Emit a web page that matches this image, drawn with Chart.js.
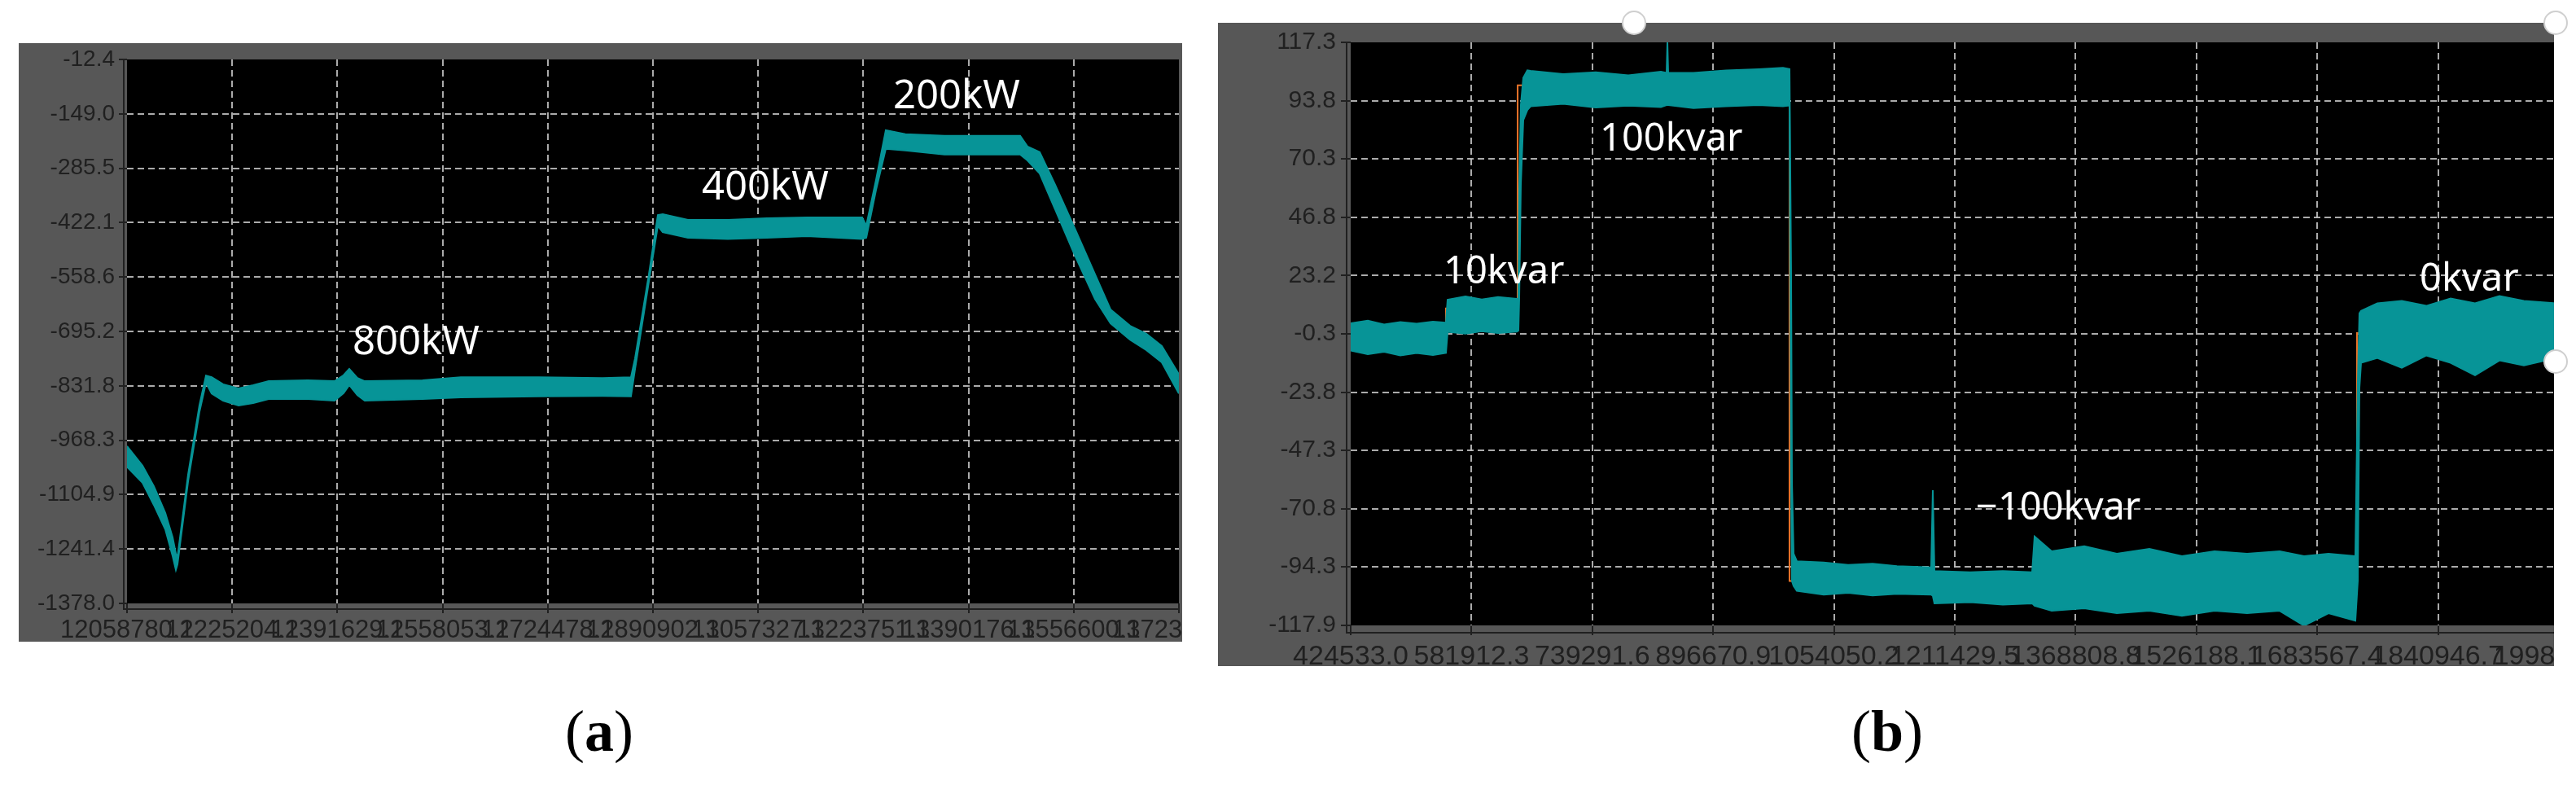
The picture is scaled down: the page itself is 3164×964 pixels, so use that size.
<!DOCTYPE html>
<html>
<head>
<meta charset="utf-8">
<script src="https://cdn.jsdelivr.net/npm/chart.js@4.4.0/dist/chart.umd.min.js"></script>
<style>
  html, body { margin: 0; padding: 0; background: #fff; }
  body { width: 3164px; height: 964px; position: relative; overflow: hidden; }
  canvas { display: block; }
  .frame { position: absolute; background: #575757; overflow: hidden; }
  #frameA { left: 23px; top: 53px; width: 1429px; height: 735px; }
  #frameB { left: 1496px; top: 28px; width: 1641px; height: 790px; }
  .handle { position: absolute; width: 26px; height: 26px; border-radius: 50%; background: #fff; border: 2px solid #cfcfcf; }
  .caption { position: absolute; top: 862px; font: 72px 'Liberation Serif', 'Times New Roman', serif; line-height: 72px; color: #000; transform: translateX(-50%); white-space: nowrap; }
</style>
</head>
<body>
<div class="frame" id="frameA"><canvas id="chartA" width="1429" height="735"></canvas></div>
<div class="frame" id="frameB"><canvas id="chartB" width="1700" height="790"></canvas></div>
<div class="handle" style="left:1992px;top:13px"></div>
<div class="handle" style="left:3124px;top:13px"></div>
<div class="handle" style="left:3124px;top:429px"></div>
<div class="caption" style="left:736px">(<b>a</b>)</div>
<div class="caption" style="left:2318px">(<b>b</b>)</div>

<script>
// (a) active power steps, band = upper / lower edge of the noisy trace
const aTime = [12058780, 12083250, 12101290, 12119320, 12130910, 12136070, 12138640, 12155390,
  12173420, 12183730, 12192740, 12210780, 12235250, 12258440, 12282910, 12344740, 12387250,
  12401420, 12410430, 12423310, 12434910, 12526360, 12586900, 12709270, 12811030, 12856110,
  12862550, 12884450, 12898620, 12906350, 12946280, 13009400, 13071230, 13134340, 13221930,
  13228380, 13243830, 13259290, 13290200, 13352030, 13415150, 13471830, 13483420, 13502740,
  13527210, 13558130, 13590330, 13614810, 13645720, 13671480, 13695960, 13723000];
const aUpper = [-983, -1032, -1084, -1151, -1212, -1253, -1262, -1055,
  -880, -806, -810, -828, -838, -830, -820, -818, -820,
  -805, -789, -812, -820, -818, -810, -810, -812, -810,
  -763, -552, -403, -401, -415, -415, -411, -409, -409,
  -430, -315, -190, -200, -204, -204, -204, -231, -245,
  -327, -436, -552, -640, -681, -701, -732, -803];
const aLower = [-1035, -1075, -1131, -1192, -1259, -1294, -1280, -1072,
  -897, -824, -851, -869, -881, -875, -865, -865, -869,
  -850, -830, -855, -869, -865, -861, -858, -857, -858,
  -790, -570, -430, -446, -460, -463, -460, -456, -463,
  -460, -340, -237, -241, -251, -251, -251, -266, -299,
  -389, -503, -614, -675, -716, -742, -773, -851];
const aXTicks = [12058780.1, 12225204.1, 12391629.1, 12558053.1, 12724478.1, 12890902.1,
  13057327.1, 13223751.1, 13390176.1, 13556600.1, 13723025.1];
const aYTicks = [-12.4, -149.0, -285.5, -422.1, -558.6, -695.2, -831.8, -968.3, -1104.9, -1241.4, -1378.0];
const aNotes = ['800kW', '400kW', '200kW'];
const aNoteX = [12415580, 12968180, 13270880];
const aNoteY = [-752.4, -364.0, -135.1];

// (b) reactive power steps
const bTime = [424533, 446804, 468014, 489224, 510434, 531644, 548612, 550733, 574064, 595274,
  616484, 640875, 642996, 644057, 646178, 649359, 654662, 658904, 701324, 743744, 786164,
  828584, 836008, 837068, 838128, 871004, 913424, 955844, 987659, 996143, 998264, 999324,
  1001445, 1005687, 1040684, 1072499, 1104314, 1136129, 1180670, 1182791, 1184912, 1231574,
  1273994, 1312172, 1315353, 1337624, 1380044, 1422464, 1464884, 1507304, 1549724, 1592144,
  1634564, 1666379, 1698194, 1733190, 1736372, 1738493, 1740614, 1761824, 1793639, 1825454,
  1857269, 1889084, 1920899, 1952714, 1995134];
const bUpper = [4.0, 5.0, 3.5, 4.5, 3.8, 4.6, 4.2, 13.5, 14.8, 13.6,
  14.6, 13.8, 14.0, 58.0, 92.0, 103.0, 106.0, 105.8, 104.5, 105.2, 104.0,
  105.5, 105.0, 117.3, 105.0, 105.0, 106.0, 106.5, 107.0, 106.5, 23.0, -60.0,
  -89.0, -92.0, -92.5, -93.5, -93.0, -94.0, -94.5, -63.4, -96.0, -96.5,
  -96.0, -96.5, -82.0, -88.0, -86.0, -89.0, -87.0, -90.0, -88.0, -89.0,
  -88.0, -90.0, -89.0, -90.0, -20.0, 8.0, 9.0, 12.0, 13.0, 11.0,
  14.0, 12.0, 15.0, 13.0, 12.0];
const bLower = [-7.0, -8.5, -7.5, -9.0, -8.0, -8.8, -8.0, 0.5, -0.2, 0.8,
  0.0, 0.6, 1.0, 14.0, 60.0, 86.0, 90.0, 91.5, 92.5, 91.0, 91.8,
  91.2, 92.0, 92.0, 92.0, 90.8, 91.5, 92.0, 91.5, 91.8, -60.0, -100.0,
  -102.0, -104.0, -105.5, -104.8, -105.8, -105.2, -105.5, -106.0, -109.0, -108.5,
  -109.5, -109.0, -110.0, -112.0, -111.0, -113.0, -112.0, -114.0, -112.0, -113.0,
  -112.0, -118.0, -113.0, -116.0, -100.0, -22.0, -12.0, -10.0, -14.0, -9.0,
  -12.0, -17.0, -11.0, -13.0, -10.0];
// reference command (orange)
const bRefTime = [424533, 548600, 642000, 996100, 1735300, 1998326];
const bRefValue = [0, 10, 100, -100, 0, 0];
const bXTicks = [424533.0, 581912.3, 739291.6, 896670.9, 1054050.2, 1211429.5, 1368808.8,
  1526188.1, 1683567.4, 1840946.7, 1998326.0];
const bYTicks = [117.3, 93.8, 70.3, 46.8, 23.2, -0.3, -23.8, -47.3, -70.8, -94.3, -117.9];
const bNotes = ['10kvar', '100kvar', '\u2212100kvar', '0kvar'];
const bNoteX = [545430, 749050, 1239000, 1816970];
const bNoteY = [20.1, 73.6, -75.2, 17.1];

const TEAL = '#079497';
const ORANGE = '#e8742a';
const GRID = 'rgba(190,190,190,0.9)';
const LABEL = '#202020';

Chart.defaults.font.family = "'Liberation Sans', Arial, sans-serif";

function makeChart(id, cfg) {
  const lastX = cfg.xTicks.length - 1;
  const lastY = cfg.yTicks.length - 1;
  const pts = (xs, ys) => xs.map((t, i) => ({x: t, y: ys[i]}));

  const datasets = [
    {data: pts(cfg.time, cfg.upper), borderColor: TEAL, borderWidth: 2, pointRadius: 0, fill: false},
    {data: pts(cfg.time, cfg.lower), borderColor: TEAL, backgroundColor: TEAL, borderWidth: 2, pointRadius: 0, fill: '-1'}
  ];
  if (cfg.refTime) {
    datasets.push({data: pts(cfg.refTime, cfg.refValue), borderColor: ORANGE, borderWidth: 2,
      pointRadius: 0, stepped: 'before', fill: false});
  }

  // black plot area, axis lines and the white step labels
  const scope = {
    id: 'scope',
    beforeDraw(chart) {
      const {ctx, chartArea: a} = chart;
      ctx.save();
      ctx.fillStyle = '#000';
      ctx.fillRect(a.left, a.top, a.right - a.left, a.bottom - a.top);
      ctx.restore();
    },
    afterDraw(chart) {
      const {ctx, chartArea: a, scales} = chart;
      ctx.save();
      ctx.strokeStyle = LABEL;
      ctx.lineWidth = 2;
      ctx.beginPath();
      ctx.moveTo(a.left - cfg.yLineGap, a.top);
      ctx.lineTo(a.left - cfg.yLineGap, a.bottom + cfg.xLineGap);
      ctx.lineTo(a.right, a.bottom + cfg.xLineGap);
      ctx.stroke();
      ctx.fillStyle = '#fff';
      ctx.font = cfg.noteFont;
      ctx.textAlign = 'left';
      ctx.textBaseline = 'alphabetic';
      cfg.notes.forEach((t, i) => {
        ctx.fillText(t, scales.x.getPixelForValue(cfg.noteX[i]), scales.y.getPixelForValue(cfg.noteY[i]));
      });
      ctx.restore();
    }
  };

  return new Chart(document.getElementById(id), {
    type: 'line',
    data: {datasets: datasets},
    options: {
      responsive: false,
      animation: false,
      devicePixelRatio: 1,
      layout: {padding: {left: 0, top: cfg.padTop, right: cfg.padRight, bottom: 0}, autoPadding: false},
      plugins: {legend: {display: false}, tooltip: {enabled: false}},
      scales: {
        x: {
          type: 'linear',
          min: cfg.xTicks[0],
          max: cfg.xTicks[lastX],
          afterBuildTicks: s => { s.ticks = cfg.xTicks.map(v => ({value: v})); },
          afterFit: s => { s.height = cfg.xAxisH; s.paddingLeft = 0; s.paddingRight = 0; },
          ticks: {autoSkip: false, maxRotation: 0, minRotation: 0, color: LABEL,
            font: {size: cfg.xFont}, padding: cfg.xPad, callback: v => v.toFixed(1)},
          grid: {color: c => (c.index === 0 || c.index === lastX) ? 'rgba(0,0,0,0)' : GRID,
            lineWidth: 2, tickLength: 12, tickColor: LABEL, tickWidth: 2},
          border: {display: false, dash: [8, 5]}
        },
        y: {
          type: 'linear',
          min: Math.min(...cfg.yTicks),
          max: Math.max(...cfg.yTicks),
          afterBuildTicks: s => { s.ticks = [...cfg.yTicks].sort((p, q) => p - q).map(v => ({value: v})); },
          afterFit: s => { s.width = cfg.yAxisW; s.paddingTop = 0; s.paddingBottom = 0; },
          ticks: {autoSkip: false, color: LABEL, font: {size: cfg.yFont}, padding: cfg.yPad,
            callback: v => v.toFixed(1)},
          grid: {color: c => (c.index === 0 || c.index === lastY) ? 'rgba(0,0,0,0)' : GRID,
            lineWidth: 2, tickLength: cfg.yTick, tickColor: LABEL, tickWidth: 2},
          border: {display: false, dash: [8, 5]}
        }
      }
    },
    plugins: [scope]
  });
}

makeChart('chartA', {
  time: aTime, upper: aUpper, lower: aLower,
  xTicks: aXTicks, yTicks: aYTicks,
  notes: aNotes, noteX: aNoteX, noteY: aNoteY, noteFont: "49px 'Noto Sans', 'Open Sans', sans-serif",
  padTop: 20, padRight: 4, yAxisW: 133, xAxisH: 47,
  xFont: 31, xPad: 3, yFont: 28, yPad: 5, yTick: 10,
  yLineGap: 4, xLineGap: 7
});

makeChart('chartB', {
  time: bTime, upper: bUpper, lower: bLower,
  refTime: bRefTime, refValue: bRefValue,
  xTicks: bXTicks, yTicks: bYTicks,
  notes: bNotes, noteX: bNoteX, noteY: bNoteY, noteFont: "47px 'Noto Sans', 'Open Sans', sans-serif",
  padTop: 24, padRight: 53, yAxisW: 163, xAxisH: 50,
  xFont: 34, xPad: 6, yFont: 30, yPad: 6, yTick: 12,
  yLineGap: 5, xLineGap: 9
});
</script>
</body>
</html>
